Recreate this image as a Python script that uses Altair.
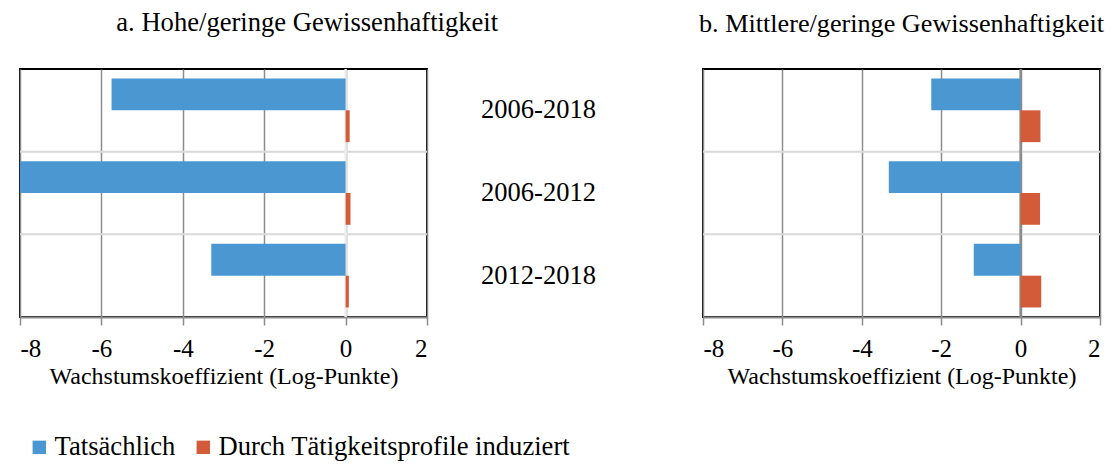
import altair as alt
import pandas as pd

periods = ["2006-2018", "2006-2012", "2012-2018"]
series = ["Tatsächlich", "Durch Tätigkeitsprofile induziert"]
left_actual = [-5.75, -8.0, -3.30]
left_induced = [0.10, 0.12, 0.08]
right_actual = [-2.25, -3.32, -1.18]
right_induced = [0.50, 0.49, 0.52]
x_ticks = [-8, -6, -4, -2, 0, 2]
title_a = "a. Hohe/geringe Gewissenhaftigkeit"
title_b = "b. Mittlere/geringe Gewissenhaftigkeit"
x_title = "Wachstumskoeffizient (Log-Punkte)"
colors = ["#4a97d2", "#d45b3a"]

FONT = "Liberation Serif"


def make_df(actual, induced):
    rows = []
    for p, a, i in zip(periods, actual, induced):
        rows.append({"period": p, "series": series[0], "value": a})
        rows.append({"period": p, "series": series[1], "value": i})
    return pd.DataFrame(rows)


def panel(actual, induced, title, title_size, width, show_labels, frame,
          zero_color, legend):
    df = make_df(actual, induced)
    grid_df = pd.DataFrame({"period": periods[1:]})
    yscale = alt.Scale(domain=periods, paddingInner=0, paddingOuter=0)
    xscale = alt.Scale(domain=[-8, 2], nice=False)
    if show_labels:
        yaxis = alt.Axis(orient="right", title=None, domain=False, ticks=False,
                         grid=False, labelFontSize=26.5, labelFont=FONT,
                         labelAlign="center",
                         labelPadding=111, labelBaseline="middle")
    else:
        yaxis = None
    xaxis = alt.Axis(values=x_ticks, title=x_title, grid=True, labelFont=FONT,
                     labelExpr="toString(datum.value)")
    hgrid = alt.Chart(grid_df).mark_rule(color="#d9d9d9", strokeWidth=2).encode(
        y=alt.Y("period:N", scale=yscale, bandPosition=0, axis=yaxis)
    )
    zero = alt.Chart(grid_df).mark_rule(color=zero_color, strokeWidth=2).encode(
        x=alt.datum(0, scale=xscale, axis=xaxis)
    )
    bars = alt.Chart(df).mark_bar(clip=True).encode(
        x=alt.X("value:Q", scale=xscale, axis=xaxis, stack=None),
        y=alt.Y("period:N", scale=yscale, axis=yaxis, sort=periods),
        yOffset=alt.YOffset("series:N", sort=series,
                            scale=alt.Scale(domain=series, paddingInner=0,
                                            paddingOuter=0.3)),
        color=alt.Color("series:N", scale=alt.Scale(domain=series, range=colors),
                        legend=legend),
    )
    return alt.layer(hgrid, zero, bars).properties(
        width=width, height=248,
        title=alt.TitleParams(text=title, font=FONT, fontSize=title_size,
                              fontWeight="normal", color="black",
                              anchor="middle", frame=frame, offset=31),
    )


legend = alt.Legend(title=None, orient="none", legendX=6, legendY=365,
                    direction="horizontal", symbolType="square",
                    symbolSize=180, symbolStrokeWidth=0, labelFont=FONT,
                    labelFontSize=26.6, labelColor="black", columnPadding=14,
                    labelOffset=2, labelLimit=600)

left = panel(left_actual, left_induced, title_a, 26.6, 407, True, "bounds",
             "#eeeeee", legend)
right = panel(right_actual, right_induced, title_b, 26.2, 397, False, "group",
              "#8c8c8c", None)

chart = alt.hconcat(left, right, spacing=276, bounds="flush").properties(
    padding={"left": 10, "right": 0, "top": 1, "bottom": 0}
).configure_view(stroke="black", strokeWidth=2).configure_axis(
    labelFont=FONT, labelFontSize=25, labelColor="black",
    titleFont=FONT, titleFontSize=24, titleFontWeight="normal",
    titleColor="black", gridColor="#8c8c8c", gridWidth=1.5,
    domainColor="#8c8c8c", domainWidth=2, tickColor="#8c8c8c",
    tickWidth=1.5, tickSize=8, labelPadding=11, titlePadding=3,
)

chart.save("out.html", embed_options={"renderer": "svg", "actions": False})
